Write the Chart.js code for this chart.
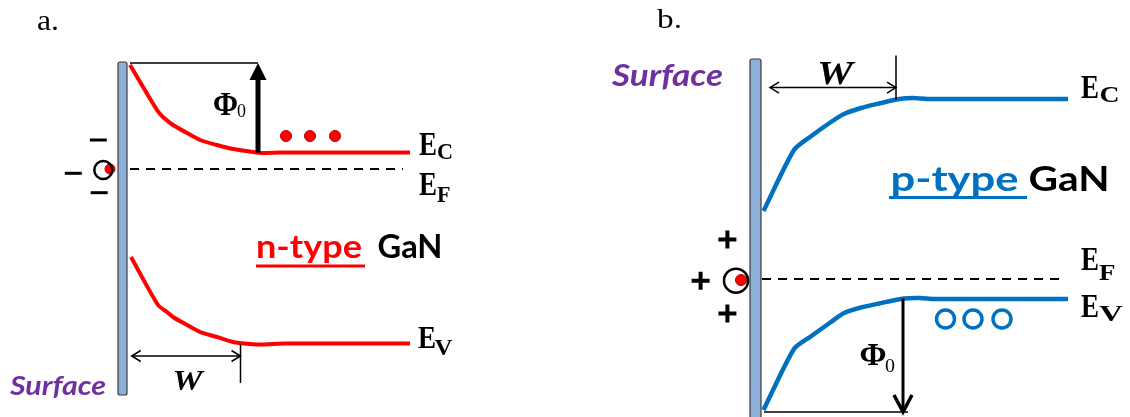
<!DOCTYPE html>
<html>
<head>
<meta charset="utf-8">
<script src="https://cdn.jsdelivr.net/npm/chart.js@4.4.1/dist/chart.umd.min.js"></script>
<style>
  html, body { margin: 0; padding: 0; background: #fff; }
  #wrap { position: relative; width: 1130px; height: 417px; overflow: hidden; }
  canvas { position: absolute; top: 0; }
  #bandN { left: 0; }
  #bandP { left: 565px; }
</style>
</head>
<body>
<div id="wrap">
  <canvas id="bandN" width="565" height="417"></canvas>
  <canvas id="bandP" width="565" height="417"></canvas>
</div>
<script>
// Band bending at a GaN surface.
// x = depth from the surface, y = energy relative to the Fermi level (arbitrary units).

// ---- a. n-type GaN (upward bending, negative surface charge) ----
const nEcDepth   = [0.3, 3.0, 3.6, 4.6, 6.0, 7.3, 9.0, 10.6, 12.6, 13.6, 15.3, 28.3];
const nEcEnergy  = [10.4, 5.9, 5.2, 4.4, 3.6, 2.9, 2.4, 2.0, 1.7, 1.6, 1.65, 1.65];
const nEvDepth   = [0.4, 3.1, 4.0, 4.6, 6.0, 7.3, 9.0, 10.6, 12.3, 13.5, 15.6, 28.3];
const nEvEnergy  = [-8.8, -13.6, -14.3, -14.8, -15.6, -16.3, -16.8, -17.3, -17.5, -17.55, -17.45, -17.45];
const nEfDepth   = [0.3, 27.6];
const nEfEnergy  = [0, 0];
const nElectronDepth  = [15.9, 18.3, 20.8];
const nElectronEnergy = [3.3, 3.3, 3.3];
const nChargeDepth    = [-2.87, -5.37, -2.78];   // negative surface charges
const nChargeEnergy   = [2.9, -0.43, -2.37];
const nStateDepth     = [-2.37];                 // surface state
const nStateEnergy    = [-0.1];
const nTrappedDepth   = [-1.7];
const nTrappedEnergy  = [0];
const nBarrierDepth   = [0.3, 13.1];             // Φ0 reference level
const nBarrierEnergy  = [10.6, 10.6];
const nBarrierArrow   = [[13.1, 1.65], [13.1, 10.6]];
const nWidthArrow     = [[0.47, -18.7], [11.35, -18.7]];
const nWidthTickDepth  = [11.35, 11.35];
const nWidthTickEnergy = [-17.5, -21.4];
const nSurface        = { from: -0.9, to: 0, top: 10.7, bottom: -22.6 };

// ---- b. p-type GaN (downward bending, positive surface charge) ----
const pEcDepth   = [0.25, 3.3, 4.9, 7.0, 8.3, 10.0, 11.8, 13.8, 15.2, 16.6, 30.7];
const pEcEnergy  = [6.8, 12.9, 14.2, 15.7, 16.5, 17.1, 17.55, 18.0, 18.1, 18.0, 18.0];
const pEvDepth   = [0.25, 3.3, 4.9, 7.0, 8.3, 10.0, 11.8, 14.3, 15.9, 17.3, 30.7];
const pEvEnergy  = [-13.1, -7.0, -5.8, -4.3, -3.4, -2.85, -2.45, -1.95, -1.9, -2.0, -2.0];
const pEfDepth   = [0.1, 30.1];
const pEfEnergy  = [0, 0];
const pHoleDepth   = [18.45, 21.2, 24.1];
const pHoleEnergy  = [-4.0, -4.0, -4.0];
const pChargeDepth  = [-3.36, -6.04, -3.36];     // positive surface charges
const pChargeEnergy = [3.95, -0.17, -3.44];
const pStateDepth   = [-2.5];
const pStateEnergy  = [-0.17];
const pTrappedDepth  = [-2.0];
const pTrappedEnergy = [-0.1];
const pBarrierDepth  = [0.3, 14.7];
const pBarrierEnergy = [-13.3, -13.3];
const pBarrierArrow  = [[14.2, -1.95], [14.2, -13.3]];
const pWidthArrow    = [[0.9, 19.14], [13.5, 19.14]];
const pWidthTickDepth  = [13.5, 13.5];
const pWidthTickEnergy = [22.34, 17.9];
const pSurface       = { from: -1.1, to: 0, top: 22.0, bottom: -14.5 };

const RED = '#FF0000', BLUE = '#0070C0', PURPLE = '#7030A0';
const SERIF = '"Liberation Serif", "Times New Roman", serif';
const SANS = 'Lato, "Open Sans", sans-serif';

const pts = (xs, ys) => xs.map((x, i) => ({ x, y: ys[i] }));

// ---- text and arrows drawn on top of the bands ----
// Text is anchored at its left end on the baseline and squeezed/stretched to width w.
function fitText(ctx, s, px, py) {
  ctx.save();
  ctx.font = s.font;
  ctx.textAlign = 'left';
  ctx.textBaseline = 'alphabetic';
  const adv = ctx.measureText(s.t).width;
  const sx = s.w ? s.w / adv : 1;
  ctx.translate(px, py);
  ctx.scale(sx, 1);
  ctx.fillStyle = s.color || '#000';
  ctx.fillText(s.t, 0, 0);
  ctx.restore();
}

function arrowHead(ctx, tx, ty, ux, uy, a) {
  const nx = -uy, ny = ux;
  const bx = tx - ux * a.len, by = ty - uy * a.len;
  ctx.beginPath();
  ctx.moveTo(bx + nx * a.half, by + ny * a.half);
  ctx.lineTo(tx, ty);
  ctx.lineTo(bx - nx * a.half, by - ny * a.half);
  if (a.head === 'solid') { ctx.closePath(); ctx.fill(); }
  else { ctx.lineWidth = a.headWidth || a.width; ctx.stroke(); }
}

function drawArrow(chart, a) {
  const { ctx, scales: { x, y } } = chart;
  const x0 = x.getPixelForValue(a.pts[0][0]), y0 = y.getPixelForValue(a.pts[0][1]);
  const x1 = x.getPixelForValue(a.pts[1][0]), y1 = y.getPixelForValue(a.pts[1][1]);
  const L = Math.hypot(x1 - x0, y1 - y0), ux = (x1 - x0) / L, uy = (y1 - y0) / L;
  ctx.save();
  ctx.strokeStyle = ctx.fillStyle = '#000';
  ctx.lineJoin = 'miter';
  const cut = a.head === 'solid' ? a.len * 0.8 : 0;
  ctx.lineWidth = a.width;
  ctx.beginPath();
  ctx.moveTo(x0, y0);
  ctx.lineTo(x1 - ux * cut, y1 - uy * cut);
  ctx.stroke();
  arrowHead(ctx, x1, y1, ux, uy, a);
  if (a.both) arrowHead(ctx, x0, y0, -ux, -uy, a);
  ctx.restore();
}

const bandDecor = {
  id: 'bandDecor',
  beforeDatasetsDraw(chart, args, o) {
    const { ctx, scales: { x, y } } = chart;
    const s = o.surface;
    const l = x.getPixelForValue(s.from), r = x.getPixelForValue(s.to);
    const t = y.getPixelForValue(s.top), b = y.getPixelForValue(s.bottom);
    ctx.save();
    ctx.fillStyle = '#8EB0D8';
    ctx.strokeStyle = '#3a3a3a';
    ctx.lineWidth = 1.2;
    ctx.beginPath();
    ctx.roundRect(l, t, r - l, b - t, 2);
    ctx.fill();
    ctx.stroke();
    ctx.restore();
  },
  afterDatasetsDraw(chart, args, o) {
    const { ctx, scales: { x, y } } = chart;
    o.arrows.forEach(a => drawArrow(chart, a));
    o.underlines.forEach(u => {
      ctx.save();
      ctx.strokeStyle = u.color;
      ctx.lineWidth = u.width;
      ctx.beginPath();
      ctx.moveTo(x.getPixelForValue(u.from), y.getPixelForValue(u.at));
      ctx.lineTo(x.getPixelForValue(u.to), y.getPixelForValue(u.at));
      ctx.stroke();
      ctx.restore();
    });
    o.labels.forEach(s => fitText(ctx, s, x.getPixelForValue(s.x), y.getPixelForValue(s.y)));
  }
};

function lineSet(xs, ys, color, width, extra) {
  return Object.assign({ data: pts(xs, ys), showLine: true, borderColor: color,
    borderWidth: width, pointRadius: 0, tension: 0, fill: false }, extra || {});
}
function pointSet(xs, ys, style, radius, fillC, strokeC, width) {
  return { data: pts(xs, ys), showLine: false, pointStyle: style, pointRadius: radius,
    backgroundColor: fillC, borderColor: strokeC, borderWidth: width };
}

function makeBand(id, range, datasets, decor) {
  return new Chart(document.getElementById(id), {
    type: 'scatter',
    data: { datasets },
    options: {
      responsive: false, animation: false, devicePixelRatio: 1, events: [],
      layout: { padding: 0, autoPadding: false },
      scales: {
        x: { type: 'linear', display: false, min: range.x[0], max: range.x[1] },
        y: { type: 'linear', display: false, min: range.y[0], max: range.y[1] }
      },
      plugins: { legend: { display: false }, tooltip: { enabled: false }, bandDecor: decor }
    },
    plugins: [bandDecor]
  });
}

// ---- a. n-type ----
makeBand('bandN', { x: [-12.7, 43.8], y: [-24.8, 16.9] }, [
  lineSet(nEfDepth, nEfEnergy, '#000', 2, { borderDash: [9, 7] }),
  lineSet(nBarrierDepth, nBarrierEnergy, '#000', 1.5),
  lineSet(nWidthTickDepth, nWidthTickEnergy, '#000', 1.5),
  lineSet(nEcDepth, nEcEnergy, RED, 4, { tension: 0.25 }),
  lineSet(nEvDepth, nEvEnergy, RED, 4, { tension: 0.25 }),
  pointSet(nElectronDepth, nElectronEnergy, 'circle', 5.5, RED, '#B00000', 1),
  pointSet(nChargeDepth, nChargeEnergy, 'line', 8.5, '#000', '#000', 3),
  pointSet(nStateDepth, nStateEnergy, 'circle', 9, 'rgba(0,0,0,0)', '#000', 2.5),
  pointSet(nTrappedDepth, nTrappedEnergy, 'circle', 5, RED, '#B00000', 1)
], {
  surface: nSurface,
  arrows: [
    { pts: nBarrierArrow, width: 5, head: 'solid', len: 17, half: 8.5 },
    { pts: nWidthArrow, width: 1.5, head: 'open', len: 9, half: 5.5, both: true }
  ],
  underlines: [{ from: 12.9, to: 23.8, at: -9.7, color: RED, width: 3 }],
  labels: [
    { t: 'a.', x: -9.0, y: 13.9, font: '30px ' + SERIF, w: 22 },
    { t: 'Φ', x: 8.6, y: 5.4, font: 'bold 33px ' + SERIF, w: 25 },
    { t: '0', x: 11.0, y: 5.2, font: '19px ' + SERIF, w: 9 },
    { t: 'E', x: 29.2, y: 1.4, font: 'bold 33px ' + SERIF, w: 18 },
    { t: 'C', x: 31.0, y: 0.97, font: 'bold 24px ' + SERIF, w: 16 },
    { t: 'E', x: 29.2, y: -2.6, font: 'bold 33px ' + SERIF, w: 18 },
    { t: 'F', x: 31.0, y: -3.27, font: 'bold 24px ' + SERIF, w: 13.5 },
    { t: 'E', x: 29.1, y: -17.93, font: 'bold 32px ' + SERIF, w: 18 },
    { t: 'V', x: 30.75, y: -18.6, font: 'bold 23px ' + SERIF, w: 18 },
    { t: 'W', x: 4.55, y: -22.1, font: 'italic bold 30px ' + SERIF, w: 30 },
    { t: 'Surface', x: -11.7, y: -22.6, font: 'italic bold 26px ' + SANS, w: 96, color: PURPLE },
    { t: 'n-type', x: 12.9, y: -8.93, font: 'bold 32px ' + SANS, w: 106, color: RED },
    { t: 'GaN', x: 25.05, y: -8.93, font: 'bold 32px ' + SANS, w: 65 }
  ]
});

// ---- b. p-type ----
makeBand('bandP', { x: [-19.6, 36.9], y: [-13.8, 27.9] }, [
  lineSet(pEfDepth, pEfEnergy, '#000', 2, { borderDash: [9, 7] }),
  lineSet(pBarrierDepth, pBarrierEnergy, '#000', 1.5),
  lineSet(pWidthTickDepth, pWidthTickEnergy, '#000', 1.5),
  lineSet(pEcDepth, pEcEnergy, BLUE, 4.5, { tension: 0.25 }),
  lineSet(pEvDepth, pEvEnergy, BLUE, 4.5, { tension: 0.25 }),
  pointSet(pHoleDepth, pHoleEnergy, 'circle', 9, '#fff', BLUE, 3.5),
  pointSet(pChargeDepth, pChargeEnergy, 'cross', 9, '#000', '#000', 4),
  pointSet(pStateDepth, pStateEnergy, 'circle', 12, 'rgba(0,0,0,0)', '#000', 2.5),
  pointSet(pTrappedDepth, pTrappedEnergy, 'circle', 5.5, RED, '#B00000', 1)
], {
  surface: pSurface,
  arrows: [
    { pts: pBarrierArrow, width: 3, head: 'open', len: 17, half: 9, headWidth: 3.5 },
    { pts: pWidthArrow, width: 1.5, head: 'open', len: 9, half: 5.5, both: true }
  ],
  underlines: [{ from: 12.8, to: 26.6, at: 8.15, color: BLUE, width: 3 }],
  labels: [
    { t: 'b.', x: -10.4, y: 25.07, font: '27px ' + SERIF, w: 25 },
    { t: 'Surface', x: -14.9, y: 19.3, font: 'italic bold 30px ' + SANS, w: 111, color: PURPLE },
    { t: 'W', x: 5.6, y: 19.48, font: 'italic bold 34px ' + SERIF, w: 36 },
    { t: 'E', x: 32.0, y: 18.07, font: 'bold 33px ' + SERIF, w: 18 },
    { t: 'C', x: 33.85, y: 17.73, font: 'bold 24px ' + SERIF, w: 20 },
    { t: 'p-type', x: 12.95, y: 8.8, font: 'bold 34px ' + SANS, w: 128, color: BLUE },
    { t: 'GaN', x: 26.75, y: 8.8, font: 'bold 34px ' + SANS, w: 81 },
    { t: 'E', x: 32.0, y: 0.9, font: 'bold 33px ' + SERIF, w: 18 },
    { t: 'F', x: 33.8, y: -0.1, font: 'bold 24px ' + SERIF, w: 16.5 },
    { t: 'E', x: 32.0, y: -3.77, font: 'bold 33px ' + SERIF, w: 18 },
    { t: 'V', x: 33.8, y: -4.2, font: 'bold 24px ' + SERIF, w: 24 },
    { t: 'Φ', x: 9.85, y: -8.6, font: 'bold 32px ' + SERIF, w: 27 },
    { t: '0', x: 12.4, y: -9.3, font: '19px ' + SERIF, w: 10 }
  ]
});
</script>
</body>
</html>
